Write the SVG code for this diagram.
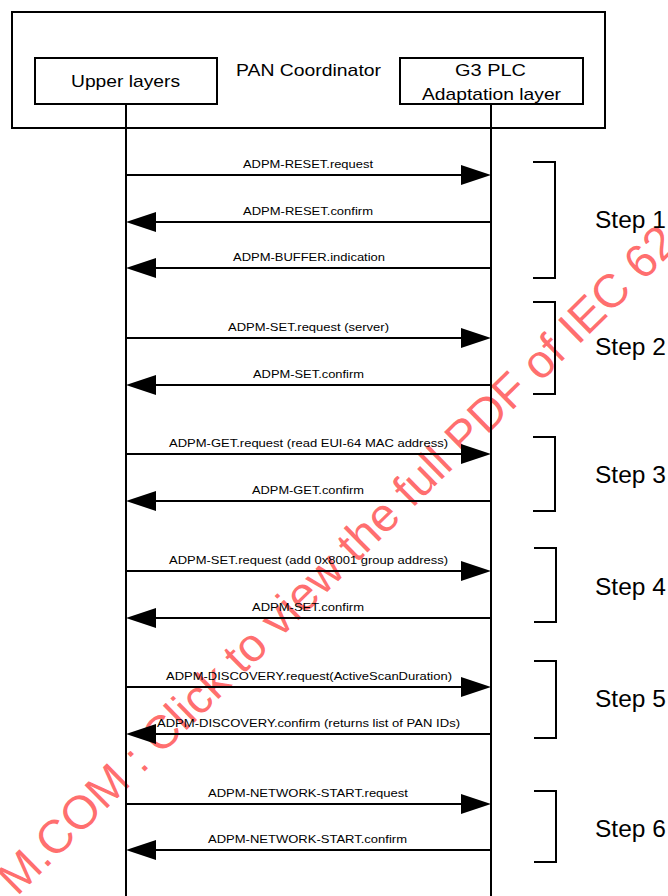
<svg xmlns="http://www.w3.org/2000/svg" width="668" height="896" viewBox="0 0 668 896">
<style>
.box{fill:#fff;stroke:#000;stroke-width:2}
.ln{stroke:#000;stroke-width:2;fill:none}
.hd{fill:#000}
.t{font-family:"Liberation Sans",Arial,sans-serif;fill:#000}
.lbl{font-size:11px}
.big{font-size:17px}
.step{font-size:24.5px}
.wm{font-family:"Liberation Sans",Arial,sans-serif;font-size:47px;fill:#ff0000;fill-opacity:0.58}
</style>
<rect width="668" height="896" fill="#fff"/>
<text class="wm" transform="translate(17,897) rotate(-44.5)">M.COM : Click to view the full PDF of IEC 62</text>
<g id="pan-coordinator">
<rect class="box" x="12" y="12" width="593" height="116" fill-opacity="0"/>
<text class="t big" x="236" y="76" textLength="145" lengthAdjust="spacingAndGlyphs">PAN Coordinator</text>
</g>
<g id="upper-layers">
<rect class="box" x="35" y="58" width="182" height="46"/>
<text class="t big" x="71" y="87" textLength="109" lengthAdjust="spacingAndGlyphs">Upper layers</text>
<line class="ln" x1="126" y1="104" x2="126" y2="896"/>
</g>
<g id="g3-plc">
<rect class="box" x="400" y="58" width="183" height="46"/>
<text class="t big" x="455" y="76" textLength="71" lengthAdjust="spacingAndGlyphs">G3 PLC</text>
<text class="t big" x="422" y="100" textLength="139" lengthAdjust="spacingAndGlyphs">Adaptation layer</text>
<line class="ln" x1="491" y1="104" x2="491" y2="896"/>
</g>
<g id="connectors">
<line class="ln" x1="126" y1="175" x2="470" y2="175"/><polygon class="hd" points="491,175 461,165 461,185"/>
<text class="t lbl" x="243" y="168" textLength="130" lengthAdjust="spacingAndGlyphs">ADPM-RESET.request</text>
<line class="ln" x1="147" y1="222" x2="491" y2="222"/><polygon class="hd" points="126,222 156,212 156,232"/>
<text class="t lbl" x="243" y="215" textLength="130" lengthAdjust="spacingAndGlyphs">ADPM-RESET.confirm</text>
<line class="ln" x1="147" y1="268" x2="491" y2="268"/><polygon class="hd" points="126,268 156,258 156,278"/>
<text class="t lbl" x="233" y="261" textLength="152" lengthAdjust="spacingAndGlyphs">ADPM-BUFFER.indication</text>
<line class="ln" x1="126" y1="338" x2="470" y2="338"/><polygon class="hd" points="491,338 461,328 461,348"/>
<text class="t lbl" x="228" y="331" textLength="161" lengthAdjust="spacingAndGlyphs">ADPM-SET.request (server)</text>
<line class="ln" x1="147" y1="385" x2="491" y2="385"/><polygon class="hd" points="126,385 156,375 156,395"/>
<text class="t lbl" x="253" y="378" textLength="111" lengthAdjust="spacingAndGlyphs">ADPM-SET.confirm</text>
<line class="ln" x1="126" y1="454" x2="470" y2="454"/><polygon class="hd" points="491,454 461,444 461,464"/>
<text class="t lbl" x="169" y="447" textLength="279" lengthAdjust="spacingAndGlyphs">ADPM-GET.request (read EUI-64 MAC address)</text>
<line class="ln" x1="147" y1="501" x2="491" y2="501"/><polygon class="hd" points="126,501 156,491 156,511"/>
<text class="t lbl" x="252" y="494" textLength="112" lengthAdjust="spacingAndGlyphs">ADPM-GET.confirm</text>
<line class="ln" x1="126" y1="571" x2="470" y2="571"/><polygon class="hd" points="491,571 461,561 461,581"/>
<text class="t lbl" x="169" y="564" textLength="279" lengthAdjust="spacingAndGlyphs">ADPM-SET.request (add 0x8001 group address)</text>
<line class="ln" x1="147" y1="618" x2="491" y2="618"/><polygon class="hd" points="126,618 156,608 156,628"/>
<text class="t lbl" x="252" y="611" textLength="112" lengthAdjust="spacingAndGlyphs">ADPM-SET.confirm</text>
<line class="ln" x1="126" y1="687" x2="470" y2="687"/><polygon class="hd" points="491,687 461,677 461,697"/>
<text class="t lbl" x="166" y="680" textLength="286" lengthAdjust="spacingAndGlyphs">ADPM-DISCOVERY.request(ActiveScanDuration)</text>
<line class="ln" x1="147" y1="734" x2="491" y2="734"/><polygon class="hd" points="126,734 156,724 156,744"/>
<text class="t lbl" x="157" y="727" textLength="303" lengthAdjust="spacingAndGlyphs">ADPM-DISCOVERY.confirm (returns list of PAN IDs)</text>
<line class="ln" x1="126" y1="804" x2="470" y2="804"/><polygon class="hd" points="491,804 461,794 461,814"/>
<text class="t lbl" x="208" y="797" textLength="200" lengthAdjust="spacingAndGlyphs">ADPM-NETWORK-START.request</text>
<line class="ln" x1="147" y1="850" x2="491" y2="850"/><polygon class="hd" points="126,850 156,840 156,860"/>
<text class="t lbl" x="208" y="843" textLength="199" lengthAdjust="spacingAndGlyphs">ADPM-NETWORK-START.confirm</text>
</g>
<g id="step1"><polyline class="ln" points="533,162 555,162 555,278 533,278"/><text class="t step" x="595" y="228">Step 1</text></g>
<g id="step2"><polyline class="ln" points="533,302 555,302 555,394 533,394"/><text class="t step" x="595" y="355">Step 2</text></g>
<g id="step3"><polyline class="ln" points="533,437 555,437 555,511 533,511"/><text class="t step" x="595" y="483">Step 3</text></g>
<g id="step4"><polyline class="ln" points="534,548 556,548 556,622 534,622"/><text class="t step" x="595" y="595">Step 4</text></g>
<g id="step5"><polyline class="ln" points="534,661 556,661 556,738 534,738"/><text class="t step" x="595" y="707">Step 5</text></g>
<g id="step6"><polyline class="ln" points="534,791 556,791 556,862 534,862"/><text class="t step" x="595" y="837">Step 6</text></g>
</svg>
